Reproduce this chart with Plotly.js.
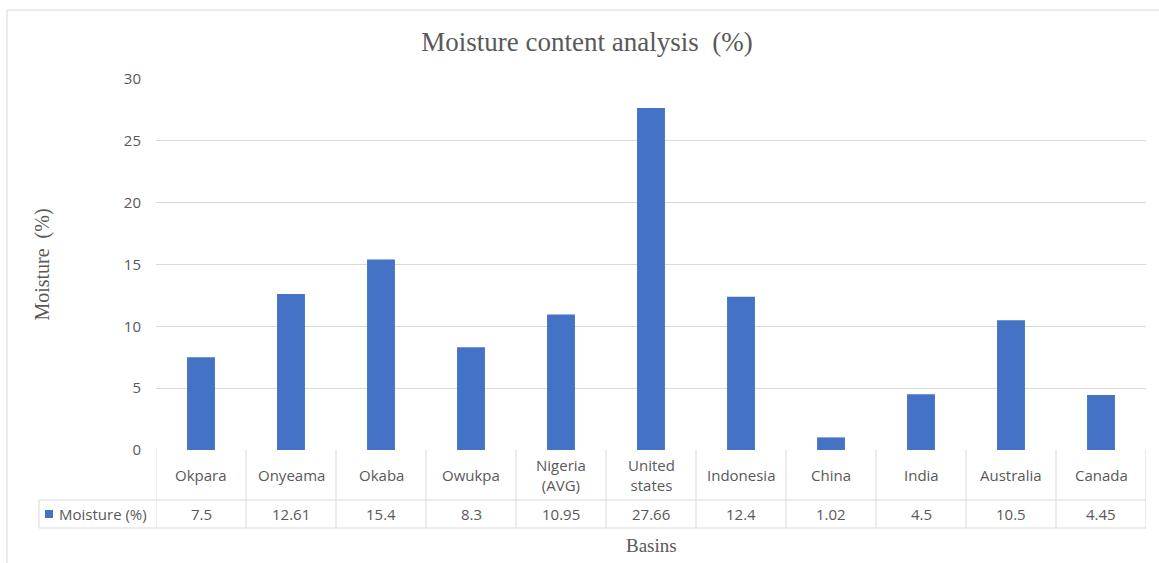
<!DOCTYPE html>
<html>
<head>
<meta charset="utf-8">
<script src="https://cdn.plot.ly/plotly-3.0.1.min.js"></script>
<style>html,body{margin:0;padding:0;background:#fff;}#chart{width:1159px;height:563px;}</style>
</head>
<body>
<div id="chart"></div>
<script>
const categories = ["Okpara", "Onyeama", "Okaba", "Owukpa", "Nigeria<br>(AVG)", "United<br>states", "Indonesia", "China", "India", "Australia", "Canada"];
const moisture = [7.5, 12.61, 15.4, 8.3, 10.95, 27.66, 12.4, 1.02, 4.5, 10.5, 4.45];
const valueLabels = ["7.5", "12.61", "15.4", "8.3", "10.95", "27.66", "12.4", "1.02", "4.5", "10.5", "4.45"];
const seriesName = "Moisture (%)";
const yTicks = [0, 5, 10, 15, 20, 25, 30];

const W = 1159, H = 563;
const mL = 156, mR = 13, mT = 79, mB = 113;
const plotW = W - mL - mR, plotH = H - mT - mB;
const headerBottom = -50 / plotH;
const rowBottom = -78 / plotH;
const legendLeft = (39 - mL) / plotW;
const gridCol = "#d9d9d9";
const txtCol = "#595959";
const sans = "Open Sans, Liberation Sans, sans-serif";
const serif = "Liberation Serif, Times New Roman, serif";
const n = categories.length;
const xIdx = categories.map((_, i) => i);

const shapes = [];
const annotations = [];
// outer border (left & top visible)
shapes.push({type: "rect", xref: "paper", yref: "paper",
  x0: (7 - mL) / plotW, x1: (1175 - mL) / plotW, y0: -(H + 10 - mT - plotH) / plotH, y1: (H - mB - 10) / plotH,
  line: {color: "#d9d9d9", width: 1}, layer: "below"});
// table horizontal lines
shapes.push({type: "line", xref: "paper", yref: "paper", x0: 0, x1: 1, y0: headerBottom, y1: headerBottom, line: {color: gridCol, width: 1}});
shapes.push({type: "line", xref: "paper", yref: "paper", x0: legendLeft, x1: 0, y0: headerBottom, y1: headerBottom, line: {color: gridCol, width: 1}});
shapes.push({type: "line", xref: "paper", yref: "paper", x0: legendLeft, x1: 1, y0: rowBottom, y1: rowBottom, line: {color: gridCol, width: 1}});
shapes.push({type: "line", xref: "paper", yref: "paper", x0: legendLeft, x1: legendLeft, y0: headerBottom, y1: rowBottom, line: {color: gridCol, width: 1}});
// vertical cell boundaries
for (let i = 0; i <= n; i++) {
  shapes.push({type: "line", xref: "x", yref: "paper", x0: i - 0.5, x1: i - 0.5, y0: 0, y1: rowBottom, line: {color: gridCol, width: 1}});
}
// legend marker
shapes.push({type: "rect", xref: "paper", yref: "paper",
  x0: (45 - mL) / plotW, x1: (53 - mL) / plotW, y0: -(60) / plotH, y1: -(68) / plotH,
  fillcolor: "#4472C4", line: {width: 0}});

categories.forEach((c, i) => {
  annotations.push({xref: "x", yref: "paper", x: i, y: headerBottom / 2, text: c, showarrow: false,
    font: {family: sans, size: 15, color: txtCol}, xanchor: "center", yanchor: "middle"});
  annotations.push({xref: "x", yref: "paper", x: i, y: (headerBottom + rowBottom) / 2, text: valueLabels[i], showarrow: false,
    font: {family: sans, size: 15, color: txtCol}, xanchor: "center", yanchor: "middle"});
});
annotations.push({xref: "paper", yref: "paper", x: (57 - mL) / plotW, y: (headerBottom + rowBottom) / 2, text: seriesName, showarrow: false,
  font: {family: sans, size: 15, color: txtCol}, xanchor: "left", yanchor: "middle"});
annotations.push({xref: "paper", yref: "paper", x: (651 - mL) / plotW, y: -(545 - mT - plotH) / plotH, text: "Basins", showarrow: false,
  font: {family: serif, size: 19, color: txtCol}, xanchor: "center", yanchor: "middle"});

const trace = {
  type: "bar", x: xIdx, y: moisture, name: seriesName,
  marker: {color: "#4472C4"}, hoverinfo: "skip"
};

const layout = {
  width: W, height: H,
  margin: {l: mL, r: mR, t: mT, b: mB},
  paper_bgcolor: "#fff", plot_bgcolor: "#fff",
  showlegend: false,
  bargap: 0.69,
  title: {text: "Moisture content analysis  (%)", x: 587 / W, xanchor: "center", y: 1 - 42 / H, yanchor: "middle",
    font: {family: serif, size: 27, color: txtCol}},
  xaxis: {range: [-0.5, n - 0.5], showticklabels: false, showgrid: false, zeroline: false, ticks: "", fixedrange: true},
  yaxis: {range: [0, 30], tickvals: yTicks, ticktext: yTicks.map(String), showgrid: true, gridcolor: gridCol, gridwidth: 1,
    zeroline: false, showline: false, ticks: "", ticklen: 0, ticklabelstandoff: 14,
    tickfont: {family: sans, size: 15, color: txtCol},
    title: {text: "Moisture  (%)", standoff: 68, font: {family: serif, size: 20, color: txtCol}}},
  shapes: shapes,
  annotations: annotations
};

Plotly.newPlot("chart", [trace], layout, {displayModeBar: false, staticPlot: true});
</script>
</body>
</html>
